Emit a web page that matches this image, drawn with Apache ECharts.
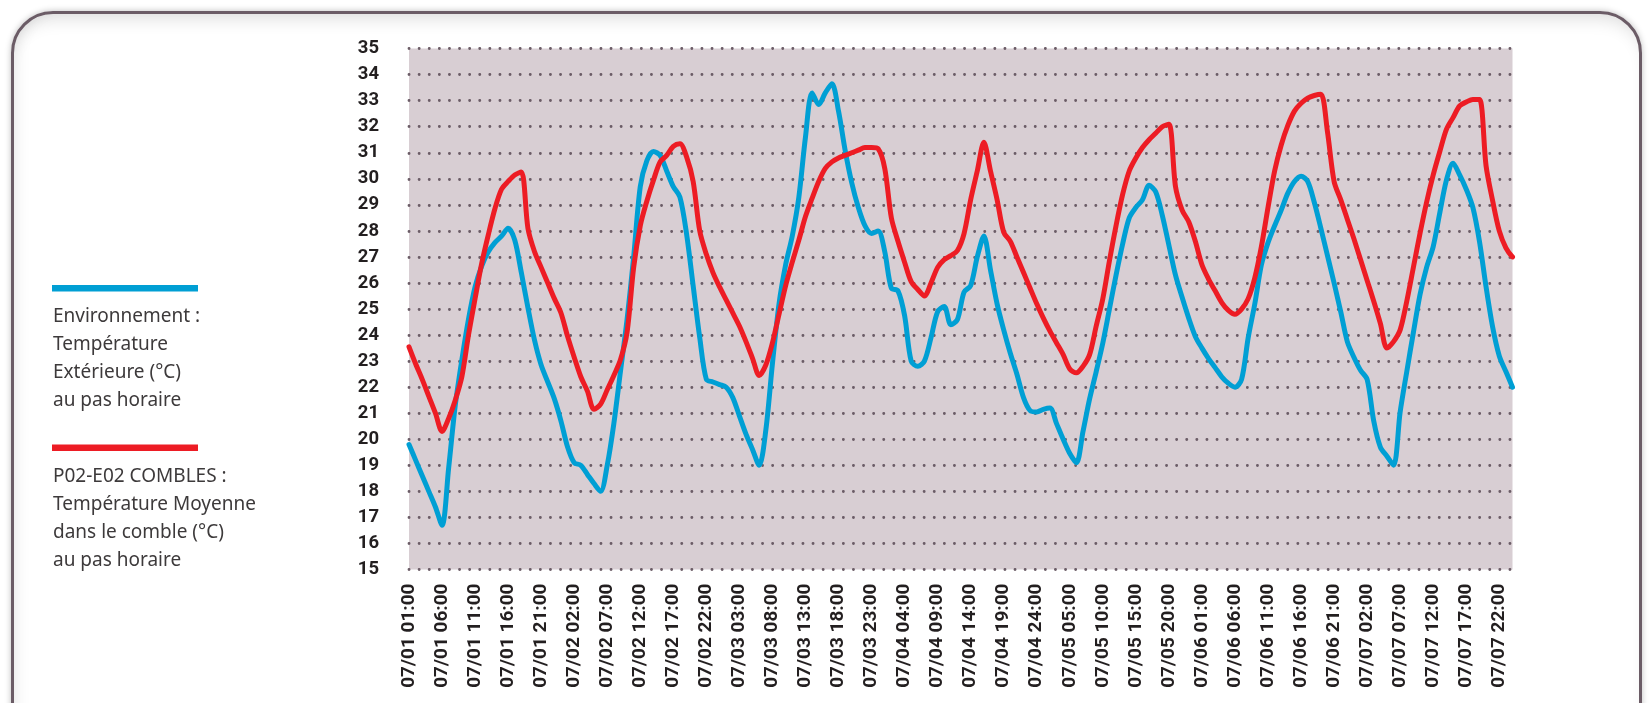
<!DOCTYPE html>
<html>
<head>
<meta charset="utf-8">
<title>Températures au pas horaire</title>
<script src="https://cdn.jsdelivr.net/npm/echarts@6/dist/echarts.min.js"></script>
<style>
    html, body { margin: 0; padding: 0; background: #ffffff; }
    #frame {
        position: absolute; left: 11px; top: 11px; width: 1631px; height: 780px;
        border: 3px solid #6b5c66; border-radius: 42px; box-sizing: border-box;
        box-shadow: 0 0 6px rgba(0,0,0,0.25), inset 0 14px 18px -10px rgba(0,0,0,0.14), inset 12px 0 16px -10px rgba(0,0,0,0.08);
    }
    #chart { position: absolute; left: 0; top: 0; width: 1649px; height: 703px; }
</style>
</head>
<body>
<div id="frame"></div>
<div id="chart"></div>
<script>
    // days and hours of the category axis (hours run 01..24)
    var days = ['07/01', '07/02', '07/03', '07/04', '07/05', '07/06', '07/07'];
    var hours = ['01', '02', '03', '04', '05', '06', '07', '08', '09', '10', '11', '12',
                 '13', '14', '15', '16', '17', '18', '19', '20', '21', '22', '23', '24'];
    var categories = [];
    days.forEach(function (d) {
        hours.forEach(function (h) { categories.push(d + ' ' + h + ':00'); });
    });

    var yTicks = { min: 15, max: 35, step: 1 };

    var legendNames = [
        'Environnement :\nTempérature\nExtérieure (°C)\nau pas horaire',
        'P02-E02 COMBLES :\nTempérature Moyenne\ndans le comble (°C)\nau pas horaire'
    ];

    // Environnement : température extérieure, au pas horaire
    var tempExt = [
        19.8, 19.2, 18.6, 18.0, 17.4, 16.7, 18.9, 21.3, 23.05, 24.6,
        25.85, 26.65, 27.2, 27.55, 27.8, 28.1, 27.65, 26.4, 25.05, 23.8,
        22.85, 22.2, 21.55, 20.7, 19.7, 19.1, 19.0, 18.65, 18.3, 18.0,
        19.0, 20.6, 22.6, 24.6, 27.0, 29.7, 30.7, 31.05, 30.9, 30.3,
        29.7, 29.3, 27.9, 25.9, 23.9, 22.3, 22.2, 22.1, 22.0, 21.6,
        20.9, 20.2, 19.6, 19.0, 20.35, 22.9, 25.2, 26.7, 27.8, 29.3,
        31.6, 33.3, 32.85, 33.3, 33.65, 32.6, 31.1, 29.85, 28.9, 28.2,
        27.9, 28.0, 27.2, 25.8, 25.7, 24.75, 23.0, 22.8, 23.0, 23.9,
        24.9, 25.1, 24.4, 24.6, 25.65, 25.9, 27.0, 27.8, 26.5, 25.2,
        24.2, 23.3, 22.5, 21.6, 21.1, 21.05, 21.15, 21.2, 20.6, 20.0,
        19.45, 19.1, 20.3, 21.55, 22.6, 23.7, 25.0, 26.3, 27.5, 28.5,
        28.9, 29.2, 29.75, 29.5, 28.6, 27.45, 26.3, 25.45, 24.65, 23.95,
        23.5, 23.1, 22.75, 22.4, 22.15, 22.0, 22.3, 23.9, 25.2, 26.7,
        27.55, 28.2, 28.8, 29.45, 29.9, 30.1, 29.9, 29.1, 28.1, 27.05,
        26.0, 24.9, 23.75, 23.15, 22.65, 22.3, 20.7, 19.7, 19.35, 19.0,
        21.05, 22.6, 24.1, 25.55, 26.6, 27.4, 28.7, 29.95, 30.6, 30.15,
        29.6, 28.9, 27.6, 25.85, 24.3, 23.2, 22.6, 22.0
    ];

    // P02-E02 combles : température moyenne dans le comble
    var tempCombles = [
        23.55, 22.9, 22.3, 21.65, 21.0, 20.3, 20.8, 21.5, 22.4, 24.0,
        25.4, 26.75, 27.85, 28.85, 29.6, 29.9, 30.15, 30.26, 28.1, 27.2,
        26.6, 26.0, 25.4, 24.85, 23.95, 23.15, 22.4, 21.85, 21.15, 21.35,
        21.9, 22.45, 23.05, 24.1, 26.6, 28.2, 29.15, 29.95, 30.65, 30.9,
        31.25, 31.35, 30.85, 29.9, 28.0, 27.1, 26.4, 25.85, 25.35, 24.85,
        24.35, 23.75, 23.1, 22.45, 22.85, 23.7, 24.8, 25.9, 26.8, 27.65,
        28.55, 29.25, 29.9, 30.4, 30.65, 30.8, 30.9, 31.0, 31.1, 31.2,
        31.2, 31.15, 30.4, 28.5, 27.6, 26.8, 26.05, 25.75, 25.5, 26.0,
        26.6, 26.9, 27.05, 27.25, 27.9, 29.2, 30.3, 31.4, 30.3, 29.2,
        27.95, 27.6, 27.0, 26.4, 25.8, 25.2, 24.65, 24.15, 23.7, 23.25,
        22.7, 22.55, 22.8, 23.25, 24.35, 25.4, 26.85, 28.2, 29.4, 30.3,
        30.8, 31.2, 31.5, 31.75, 32.0, 32.1, 29.7, 28.8, 28.35, 27.6,
        26.7, 26.15, 25.7, 25.25, 24.95, 24.8, 25.0, 25.4, 26.2, 27.4,
        28.9, 30.3, 31.3, 32.05, 32.6, 32.9, 33.1, 33.2, 33.25, 31.8,
        29.9, 29.2, 28.45, 27.7, 26.9, 26.1, 25.3, 24.45, 23.5, 23.75,
        24.2, 25.3, 26.6, 27.9, 29.1, 30.15, 31.05, 31.9, 32.35, 32.8,
        32.95, 33.05, 33.05, 30.5, 29.15, 28.0, 27.35, 27.0
    ];

    var colors = ['#009fd4', '#ed1c24'];

    var chart = echarts.init(document.getElementById('chart'), null, { renderer: 'canvas' });

    var option = {
        backgroundColor: 'transparent',
        animation: false,
        grid: {
            left: 409, right: 136.5, top: 48.6, bottom: 133.5,
            show: true, backgroundColor: '#d8ced3', borderWidth: 0
        },
        xAxis: {
            type: 'category',
            data: categories,
            boundaryGap: false,
            axisLine: { show: false },
            axisTick: { show: false },
            axisLabel: {
                interval: 4, rotate: 90, margin: 14,
                fontFamily: 'Roboto', fontWeight: 'bold', fontSize: 19, color: '#231f20'
            },
            splitLine: { show: false }
        },
        yAxis: {
            type: 'value',
            min: yTicks.min, max: yTicks.max, interval: yTicks.step,
            axisLine: { show: false },
            axisTick: { show: false },
            axisLabel: {
                margin: 30,
                fontFamily: 'Roboto', fontWeight: 'bold', fontSize: 18.5, color: '#231f20'
            },
            splitLine: {
                show: true,
                lineStyle: { color: '#6b5c66', width: 2.8, type: [0.1, 10], cap: 'round' }
            }
        },
        series: [
            {
                name: legendNames[0], type: 'line', data: tempExt,
                showSymbol: false, smooth: 0.3,
                lineStyle: { color: colors[0], width: 5, cap: 'round', join: 'round' },
                z: 3
            },
            {
                name: legendNames[1], type: 'line', data: tempCombles,
                showSymbol: false, smooth: 0.3,
                lineStyle: { color: colors[1], width: 5, cap: 'round', join: 'round' },
                z: 4
            }
        ],
        graphic: [
            { type: 'rect', left: 52, top: 285, shape: { width: 146, height: 6.5 }, style: { fill: colors[0] } },
            {
                type: 'text', left: 53, top: 303,
                style: { text: legendNames[0], fontFamily: 'Noto Sans', fontSize: 19, lineHeight: 28, fill: '#3d3a3b' }
            },
            { type: 'rect', left: 52, top: 444.5, shape: { width: 146, height: 6.5 }, style: { fill: colors[1] } },
            {
                type: 'text', left: 53, top: 463,
                style: { text: legendNames[1], fontFamily: 'Noto Sans', fontSize: 19, lineHeight: 28, fill: '#3d3a3b' }
            }
        ]
    };

    chart.setOption(option);
</script>
</body>
</html>
